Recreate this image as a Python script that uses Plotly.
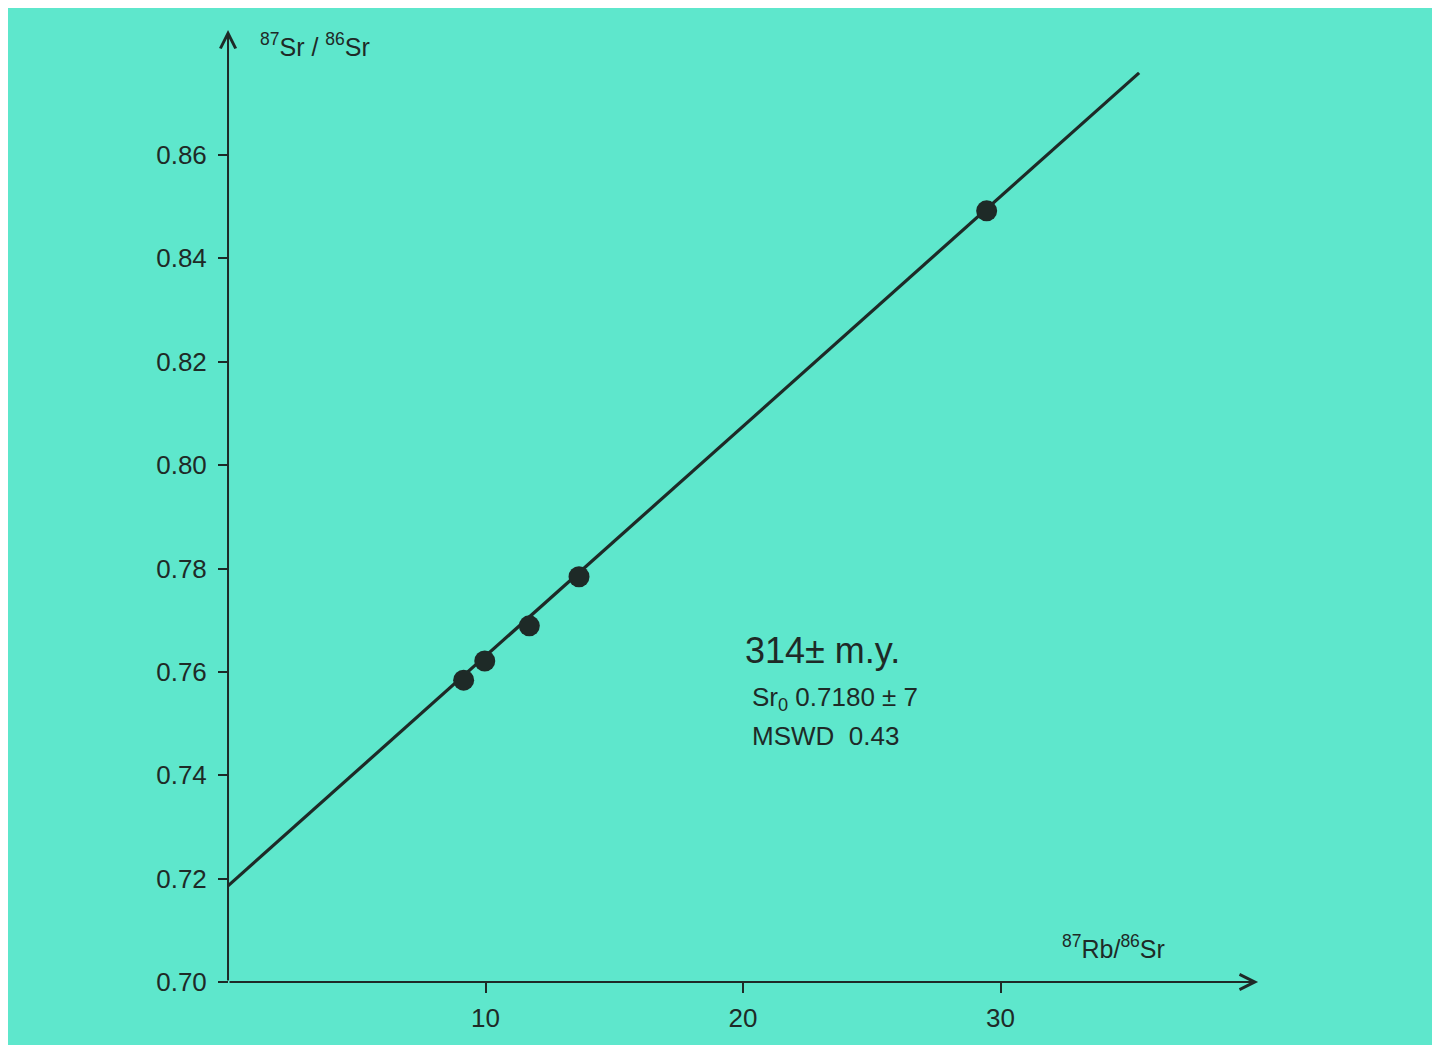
import plotly.graph_objects as go

# ---- data ----
rb_sr = [9.15, 9.97, 11.70, 13.63, 29.46]          # 87Rb/86Sr
sr_sr = [0.7584, 0.7621, 0.7689, 0.7784, 0.8492]   # 87Sr/86Sr
iso_x = [0.0, 35.38]                               # isochron ends
iso_y = [0.7186, 0.8759]
x_ticks = [10, 20, 30]
x_tick_labels = ["10", "20", "30"]
y_ticks = [0.70, 0.72, 0.74, 0.76, 0.78, 0.80, 0.82, 0.84, 0.86]
y_tick_labels = ["0.70", "0.72", "0.74", "0.76", "0.78", "0.80", "0.82", "0.84", "0.86"]
x_axis_end = 40.0
y_axis_end = 0.8842

INK = "#1e2a27"
TEAL = "#5ee7cc"
FONT = "Liberation Sans"

xmin, xmax = -8.544, 46.87
ymin, ymax = 0.68723, 0.88844

fig = go.Figure()
fig.add_trace(go.Scatter(x=iso_x, y=iso_y, mode="lines",
                         line=dict(color=INK, width=3.2), hoverinfo="skip",
                         showlegend=False))
fig.add_trace(go.Scatter(x=rb_sr, y=sr_sr, mode="markers",
                         marker=dict(color=INK, size=21), showlegend=False))

ann = []
# axis lines with arrows
ann.append(dict(x=x_axis_end, y=y_ticks[0], ax=0, ay=y_ticks[0], xref="x", yref="y",
                axref="x", ayref="y", text="", showarrow=True, arrowhead=5,
                arrowsize=1.5, arrowwidth=2, arrowcolor=INK))
ann.append(dict(x=0, y=y_axis_end, ax=0, ay=y_ticks[0], xref="x", yref="y",
                axref="x", ayref="y", text="", showarrow=True, arrowhead=5,
                arrowsize=1.5, arrowwidth=2, arrowcolor=INK))
# axis titles
ann.append(dict(x=1.16, y=0.8813, xref="x", yref="y", xanchor="left", yanchor="middle",
                text="<sup>87</sup>Sr / <sup>86</sup>Sr", showarrow=False,
                font=dict(family=FONT, size=25, color=INK)))
ann.append(dict(x=32.3, y=0.7068, xref="x", yref="y", xanchor="left", yanchor="middle",
                text="<sup>87</sup>Rb/<sup>86</sup>Sr", showarrow=False,
                font=dict(family=FONT, size=25, color=INK)))
# result text
ann.append(dict(x=20.0, y=0.7642, xref="x", yref="y", xanchor="left", yanchor="middle",
                text="314± m.y.", showarrow=False,
                font=dict(family=FONT, size=36, color=INK)))
ann.append(dict(x=20.27, y=0.7549, xref="x", yref="y", xanchor="left", yanchor="middle",
                text="Sr<sub>0</sub> 0.7180 ± 7", showarrow=False,
                font=dict(family=FONT, size=26, color=INK)))
ann.append(dict(x=20.27, y=0.7476, xref="x", yref="y", xanchor="left", yanchor="middle",
                text="MSWD  0.43", showarrow=False,
                font=dict(family=FONT, size=26, color=INK)))

fig.update_layout(
    width=1427, height=1040,
    margin=dict(l=0, r=0, t=0, b=0),
    paper_bgcolor="white", plot_bgcolor=TEAL,
    annotations=ann,
    xaxis=dict(range=[xmin, xmax], anchor="free",
               position=(y_ticks[0] - ymin) / (ymax - ymin),
               showgrid=False, zeroline=False, showline=False,
               tickvals=x_ticks, ticktext=x_tick_labels,
               ticks="outside", ticklen=10, tickwidth=2, tickcolor=INK,
               ticklabelstandoff=3,
               tickfont=dict(family=FONT, size=26, color=INK)),
    yaxis=dict(range=[ymin, ymax], anchor="free",
               position=(0 - xmin) / (xmax - xmin),
               showgrid=False, zeroline=False, showline=False,
               tickvals=y_ticks, ticktext=y_tick_labels,
               ticks="outside", ticklen=10, tickwidth=2, tickcolor=INK,
               ticklabelstandoff=6,
               tickfont=dict(family=FONT, size=26, color=INK)),
)

fig.write_html("out.html")
